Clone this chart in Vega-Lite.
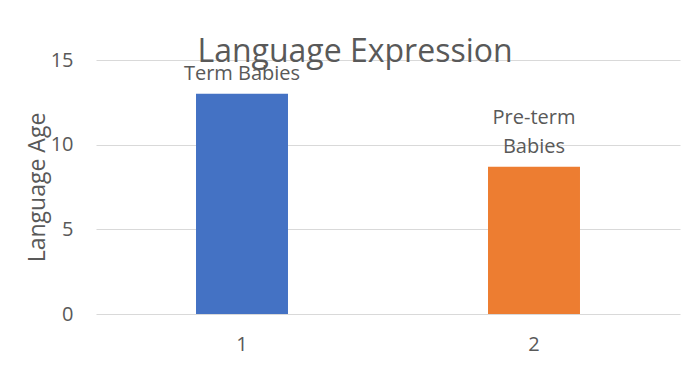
{
  "$schema": "https://vega.github.io/schema/vega-lite/v6.json",
  "autosize": "none",
  "width": 584,
  "height": 254,
  "padding": {"left": 96, "top": 60, "right": 10, "bottom": 58},
  "background": "white",
  "title": {
    "text": "Language Expression",
    "font": "Open Sans",
    "fontSize": 32,
    "fontWeight": "normal",
    "color": "#595959",
    "anchor": "middle",
    "baseline": "alphabetic",
    "offset": -59,
    "dx": -33
  },
  "data": {
    "values": [
      {"group": "1", "value": 13.0, "upper": "", "lower": "Term Babies"},
      {"group": "2", "value": 8.7, "upper": "Pre-term", "lower": "Babies"}
    ]
  },
  "config": {
    "view": {"stroke": null},
    "axis": {
      "labelFont": "Open Sans",
      "titleFont": "Open Sans",
      "labelColor": "#595959",
      "titleColor": "#595959",
      "titleFontWeight": "normal",
      "ticks": false,
      "domain": false
    }
  },
  "encoding": {
    "x": {
      "field": "group",
      "type": "nominal",
      "scale": {"paddingInner": 0, "paddingOuter": 0},
      "axis": {"title": null, "labelAngle": 0, "labelFontSize": 20, "labelPadding": 20, "grid": false}
    },
    "y": {
      "field": "value",
      "type": "quantitative",
      "scale": {"domain": [0, 15], "nice": false},
      "axis": {
        "title": "Language Age",
        "titleFontSize": 23,
        "titlePadding": 1,
        "labelFontSize": 20,
        "labelPadding": 23,
        "values": [0, 5, 10, 15],
        "gridColor": "#d9d9d9",
        "gridWidth": 1
      }
    }
  },
  "layer": [
    {
      "mark": {"type": "bar", "width": {"band": 0.315}},
      "encoding": {
        "color": {
          "field": "group",
          "type": "nominal",
          "scale": {"domain": ["1", "2"], "range": ["#4472C4", "#ED7D31"]},
          "legend": null
        }
      }
    },
    {
      "mark": {
        "type": "text",
        "font": "Open Sans",
        "fontSize": 20,
        "color": "#595959",
        "baseline": "bottom",
        "align": "center",
        "dy": -10
      },
      "encoding": {
        "text": {"field": "lower"}
      }
    },
    {
      "mark": {
        "type": "text",
        "font": "Open Sans",
        "fontSize": 20,
        "color": "#595959",
        "baseline": "bottom",
        "align": "center",
        "dy": -39
      },
      "encoding": {
        "text": {"field": "upper"}
      }
    }
  ]
}
